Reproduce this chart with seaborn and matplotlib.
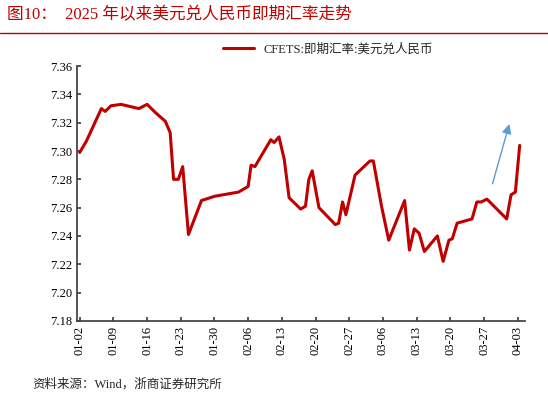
import matplotlib
matplotlib.use("Agg")
import matplotlib.pyplot as plt
import seaborn as sns
import pandas as pd

days = [0,1.4,4.5,5.3,6.5,8.6,12.3,14,15.8,17.8,18.8,19.5,20.5,21.4,22.6,25.3,28,33,35,35.6,36.4,39.7,40.4,41.4,42.5,43.5,45.9,46.9,47.6,48.3,49.7,53.1,53.8,54.6,55.3,57.2,60.3,61,62.7,64.2,67.5,68.5,69.5,70.5,71.6,74.3,75.5,76.7,77.4,78.4,81.5,82.5,83.4,84.6,88.7,89.6,90.5,91.4]
rate = [7.299,7.307,7.330,7.328,7.332,7.333,7.330,7.333,7.327,7.321,7.313,7.280,7.280,7.289,7.241,7.265,7.268,7.271,7.275,7.290,7.289,7.308,7.306,7.310,7.294,7.267,7.259,7.261,7.280,7.286,7.260,7.248,7.249,7.264,7.255,7.283,7.293,7.293,7.261,7.237,7.265,7.230,7.245,7.242,7.229,7.240,7.222,7.237,7.238,7.249,7.252,7.264,7.264,7.266,7.252,7.269,7.271,7.304]
tick_days = [0,7,14,21,28,35,42,49,56,63,70,77,84,91]
tick_labels = ["01-02","01-09","01-16","01-23","01-30","02-06","02-13","02-20","02-27","03-06","03-13","03-20","03-27","04-03"]
yticks = [7.18,7.20,7.22,7.24,7.26,7.28,7.30,7.32,7.34,7.36]

sns.set_theme(style="ticks")
plt.rcParams['font.family'] = ['Liberation Serif', 'Noto Sans CJK SC', 'DejaVu Sans']
plt.rcParams['axes.unicode_minus'] = False

fig = plt.figure(figsize=(5.48, 4.01), dpi=100)
ax = fig.add_axes([0.141, 0.2, 0.817, 0.635])
df = pd.DataFrame({"day": days, "rate": rate})
sns.lineplot(data=df, x="day", y="rate", ax=ax, color="#C00000", lw=2.2, label="CFETS:即期汇率:美元兑人民币")
ax.set_xlim(-0.5, 92.5)
ax.set_ylim(7.18, 7.36)
ax.set_xticks(tick_days)
ax.set_xticklabels(tick_labels, rotation=90, fontsize=9)
ax.set_yticks(yticks)
ax.set_yticklabels([f"{v:.2f}" for v in yticks], fontsize=9)
ax.set_xlabel(""); ax.set_ylabel("")
for s in ["top", "right"]:
    ax.spines[s].set_visible(False)
for s in ["left", "bottom"]:
    ax.spines[s].set_color("#404040")
ax.tick_params(direction="in", length=3, colors="#404040", labelcolor="black")
ax.legend(loc="center", bbox_to_anchor=(0.56, 1.065), frameon=False, fontsize=9, handlelength=2.5)
ax.annotate("", xy=(89.4, 7.321), xytext=(85.6, 7.275),
            arrowprops=dict(arrowstyle="-|>", color="#5B9BD5", lw=1, mutation_scale=14))
fig.text(0.012, 0.962, "图10：  2025 年以来美元兑人民币即期汇率走势", color="#C00000", fontsize=12, va="center")
fig.add_artist(plt.Line2D([0.0, 1.0], [0.918, 0.918], color="#C00000", lw=1))
fig.text(0.06, 0.04, "资料来源：Wind，浙商证券研究所", fontsize=9, va="center")
fig.savefig("out.png", dpi=100)
